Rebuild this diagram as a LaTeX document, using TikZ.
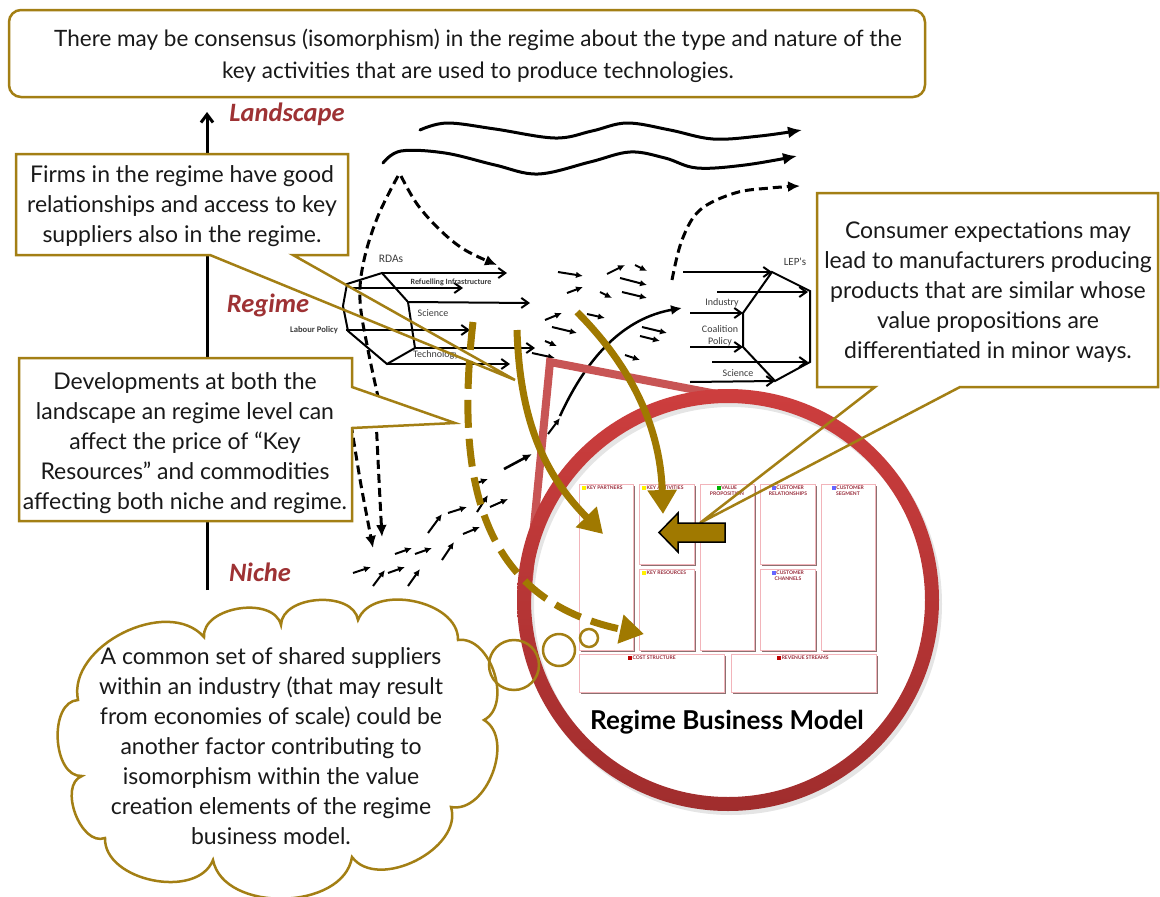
\documentclass[tikz,border=0pt]{standalone}
\usepackage{fontspec}
\setmainfont{Lato}
\newfontfamily\calfont{Carlito}
\usetikzlibrary{arrows.meta,shapes.symbols}

\definecolor{gold}{RGB}{163,127,20}
\definecolor{goldarr}{RGB}{160,121,0}
\definecolor{lblred}{RGB}{158,50,52}
\definecolor{ringtop}{RGB}{205,62,62}
\definecolor{ringbot}{RGB}{160,45,45}
\definecolor{trapred}{RGB}{200,85,85}
\definecolor{pinkb}{RGB}{242,180,186}
\definecolor{shadowb}{RGB}{140,112,112}
\definecolor{cvred}{RGB}{150,40,55}
\definecolor{lblgray}{RGB}{60,60,60}

\newcommand\sqb[1]{\textcolor{#1}{\rule{3.6pt}{3.6pt}}\hspace{0.8pt}}

\tikzset{
  callline/.style={draw=gold, line width=2.5pt, line join=miter},
  bodytext/.style={align=center, inner sep=0pt, text=black!90, font=\fontsize{23}{30}\selectfont},
  hexline/.style={black, line width=2pt, line join=miter},
  hexarrow/.style={black, line width=2pt, -{Straight Barb[length=7pt,width=10pt]}},
  smallarr/.style={black, line width=2pt, -{Latex[length=7pt,width=6.5pt]}},
  wavearr/.style={black, line width=3pt, line cap=round, -{Latex[length=14pt,width=12pt]}},
  dasharr/.style={black, line width=3pt, dash pattern=on 9pt off 5pt, -{Latex[length=12pt,width=11pt]}},
  goldarrow/.style={draw=goldarr, line width=7pt, -{Triangle[length=24pt,width=28pt]}},
  levellbl/.style={inner sep=0pt, text=lblred, font=\calfont\bfseries\itshape\fontsize{26.5}{26.5}\selectfont},
  hexlbl/.style={inner sep=0pt, text=lblgray, font=\calfont\fontsize{10}{10}\selectfont},
  cvbox/.style={draw=pinkb, fill=white, line width=1pt, inner sep=0pt, anchor=north west},
  cvshadow/.style={draw=shadowb, line width=1.5pt},
  cvlbl/.style={inner sep=0pt, align=center, text=cvred, font=\fontsize{5}{5.6}\selectfont\bfseries},
  puff/.style={bend left=#1},
}

\begin{document}
\begin{tikzpicture}[x=1pt,y=-1pt]
\useasboundingbox (0,0) rectangle (1160,897);
\fill[white] (0,0) rectangle (1160,897);

% ---------------- axis and levels
\coordinate (axbot) at (207,590);
\coordinate (axtop) at (207,112);
\draw[black, line width=3pt, -{Straight Barb[length=8pt,width=12pt]}] (axbot) -- (axtop);
\node[levellbl] (landscape) at (287,114) {Landscape};
\node[levellbl] (regime) at (268,305) {Regime};
\node[levellbl] (niche) at (260,572) {Niche};

% ---------------- landscape waves
\draw[wavearr] plot[smooth, tension=0.6] coordinates {(420,130) (447,123) (495,129) (555,138) (592,131) (627,123) (670,130) (713,139) (760,136) (802,130)};
\draw[wavearr] plot[smooth, tension=0.6] coordinates {(383,163) (401,151) (445,153) (495,165) (538,174) (590,162) (630,152) (665,158) (697,168) (745,165) (797,156)};
\draw[dasharr] plot[smooth, tension=0.6] coordinates {(672,280) (682,240) (700,210) (735,193) (770,188) (800,186)};

% dashed lines from landscape
\draw[dasharr] plot[smooth, tension=0.6] coordinates {(401,176) (417,204) (440,230) (465,250) (497,265)};
\draw[black, line width=3pt, dash pattern=on 9pt off 5pt] plot[smooth, tension=0.6] coordinates {(398,176) (378,216) (364,260) (360,300) (368,350) (381,410)};
\draw[dasharr] plot[smooth, tension=0.5] coordinates {(351,424) (361,485) (373,548)};
\draw[dasharr] plot[smooth, tension=0.5] coordinates {(376,418) (379,480) (382,537)};

% ---------------- left regime hexagon
\coordinate (h1) at (347,284);
\coordinate (h2) at (382,273);
\coordinate (h3) at (408,302);
\coordinate (h4) at (415,348);
\coordinate (h5) at (387,364);
\coordinate (h6) at (348,331);
\coordinate (h7) at (343,306);
\draw[hexline] (h1) -- (h2) -- (h3) -- (h4) -- (h5) -- (h6) -- (h7) -- cycle;
\coordinate (a1) at (507,273);
\coordinate (b0) at (350,288); \coordinate (b1) at (463,288);
\coordinate (a3) at (530,303);
\coordinate (c0) at (346,330); \coordinate (c1) at (470,330);
\coordinate (a4) at (535,348);
\coordinate (a5) at (510,364);
\draw[hexarrow] (h2) -- (a1);
\draw[hexarrow] (b0) -- (b1);
\draw[hexarrow] (h3) -- (a3);
\draw[hexarrow] (c0) -- (c1);
\draw[hexarrow] (h4) -- (a4);
\draw[hexarrow] (h5) -- (a5);
\node[hexlbl, font=\calfont\fontsize{11.5}{11.5}\selectfont] (rdas) at (391,259) {RDAs};
\node[hexlbl, font=\calfont\bfseries\fontsize{8}{8}\selectfont] (refuel) at (451,282) {Refuelling Infrastructure};
\node[hexlbl] (sci1) at (433,313) {Science};
\node[hexlbl, font=\calfont\bfseries\fontsize{8.6}{9}\selectfont] (labour) at (314,330) {Labour Policy};
\begin{scope}
\clip (400,340) rectangle (456,370);
\node[hexlbl, anchor=west] (techno) at (413,355) {Technology};
\end{scope}

% ---------------- right regime hexagon
\coordinate (r1) at (743,313);
\coordinate (r2) at (772,272);
\coordinate (r3) at (810,291);
\coordinate (r4) at (810,362);
\coordinate (r5) at (775,381);
\coordinate (r6) at (743,347);
\draw[hexline] (r1) -- (r2) -- (r3) -- (r4) -- (r5) -- (r6) -- cycle;
\coordinate (s1) at (683,272);
\coordinate (s2) at (717,292);
\coordinate (s3) at (690,313);
\coordinate (s4) at (690,347);
\coordinate (s5) at (712,362);
\coordinate (s6) at (690,382);
\draw[hexarrow] (s1) -- (r2);
\draw[hexarrow] (s2) -- (808,292);
\draw[hexarrow] (s3) -- (r1);
\draw[hexarrow] (s4) -- (r6);
\draw[hexarrow] (s5) -- (808,362);
\draw[hexarrow] (s6) -- (r5);
\node[hexlbl, font=\calfont\fontsize{11}{11}\selectfont] (leps) at (795,262) {LEP's};
\node[hexlbl] (industry) at (722,303) {Industry};
\node[hexlbl] (coal) at (720,329) {Coalition};
\node[hexlbl] (policy) at (720,342) {Policy};
\node[hexlbl] (sci2) at (738,373) {Science};

% ---------------- small arrows (niche and regime)
\foreach \ax/\ay/\bx/\by in {353/573/371/567, 373/586/385/570, 388/573/405/567, 408/586/420/569,
  395/554/412/548, 415/554/432/548, 442/560/454/542, 428/533/442/514, 448/513/467/507,
  463/534/480/527, 477/512/488/495, 477/483/488/479, 490/507/508/499, 548/434/560/418,
  558/272/583/276, 607/274/625/265, 635/265/647/271, 620/278/647/285, 567/293/583/287,
  600/292/612/298, 622/292/647/298, 545/320/562/313, 552/327/577/333, 587/314/605/318,
  545/341/557/346, 532/353/555/358, 642/327/667/333, 640/336/660/341, 625/355/640/360}
  {\draw[smallarr] (\ax,\ay) -- (\bx,\by);}
\draw[black, line width=2.6pt, -{Latex[length=9pt,width=8pt]}] (504,469) -- (532,454);
\draw[black, line width=2.5pt, -{Latex[length=11pt,width=10pt]}] (560,416) .. controls (588,355) and (625,318) .. (682,308);

% ---------------- regime business model ring
\draw[black, opacity=0.1, line width=14pt] (731,604) circle[radius=204];
\draw[trapred, line width=8pt, line join=miter] (527,598) -- (550,362) -- (722,395);
\shade[even odd rule, top color=ringtop, bottom color=ringbot] (728,600) circle[radius=211] (728,600) circle[radius=197];

% canvas boxes
\foreach \x/\y/\w/\h/\n in {579/484/54/166/kp, 639/484/55/80/ka, 639/569/55/81/kr, 700/484/54/166/vp,
  760/484/55/80/cr, 760/569/55/81/ch, 821/484/54/166/cs, 579/654/145/38/cost, 731/654/145/38/rev}
{
  \draw[cvshadow] (\x+\w+1.2,\y+2) -- (\x+\w+1.2,\y+\h+1.2) -- (\x+2,\y+\h+1.2);
  \node[cvbox, minimum width=\w pt, minimum height=\h pt] (\n) at (\x,\y) {};
}
\node[cvlbl, anchor=north west] (kpl) at (582,486) {\sqb{yellow}KEY PARTNERS};
\node[cvlbl, anchor=north west] (kal) at (642,486) {\sqb{yellow}KEY ACTIVITIES};
\node[cvlbl, anchor=north west] (krl) at (642,571) {\sqb{yellow}KEY RESOURCES};
\node[cvlbl, anchor=north] (vpl) at (727,486) {\sqb{green!70!black}VALUE\\PROPOSITION};
\node[cvlbl, anchor=north] (crl) at (788,486) {\sqb{blue!60}CUSTOMER\\RELATIONSHIPS};
\node[cvlbl, anchor=north] (chl) at (788,571) {\sqb{blue!60}CUSTOMER\\CHANNELS};
\node[cvlbl, anchor=north] (csl) at (848,486) {\sqb{blue!60}CUSTOMER\\SEGMENT};
\node[cvlbl, anchor=north] (costl) at (652,656) {\sqb{red!75!black}COST STRUCTURE};
\node[cvlbl, anchor=north] (revl) at (803,656) {\sqb{red!75!black}REVENUE STREAMS};
\node[inner sep=0pt, font=\bfseries\fontsize{26}{26}\selectfont] (rbm) at (727,722) {Regime Business Model};

% ---------------- callouts
\node[callline, fill=white, rounded corners=12pt, minimum width=916pt, minimum height=87pt] (topbox) at (467,53.5) {};
\node[bodytext, font=\fontsize{22.5}{32}\selectfont] (toptext) at (478,56) {There may be consensus (isomorphism) in the regime about the type and nature of the\\key activities that are used to produce technologies.};

\coordinate (firmtip) at (515,380);
\fill[white] (16,154) rectangle (348,255);
\draw[callline] (16,154) -- (348,154) -- (348,255) -- (293,255) -- (firmtip) -- (210,255) -- (16,255) -- cycle;
\node[bodytext] (firms) at (182,206) {Firms in the regime have good\\relationships and access to key\\suppliers also in the regime.};

\coordinate (devtip) at (455,423);
\draw[callline, fill=white] (19,358) -- (352,358) -- (352,387) -- (devtip) -- (352,428) -- (352,521) -- (19,521) -- cycle;
\node[bodytext] (devel) at (185,443) {Developments at both the\\landscape an regime level can\\affect the price of ``Key\\Resources'' and commodities\\affecting both niche and regime.};

\coordinate (constip) at (700,523);
\fill[white] (817,193) rectangle (1158,387);
\draw[callline] (817,193) -- (1158,193) -- (1158,387) -- (960,387) -- (constip) -- (875,387) -- (817,387) -- cycle;
\node[bodytext] (consumer) at (988,292) {Consumer expectations may\\lead to manufacturers producing\\products that are similar whose\\value propositions are\\differentiated in minor ways.};

% ---------------- gold arrows
\draw[goldarrow] (517,330) .. controls (520,430) and (550,480) .. (603,534);
\draw[goldarrow] (577,312) .. controls (625,360) and (660,420) .. (663,514);
\draw[goldarrow, dash pattern=on 28pt off 11pt] (473,322) .. controls (455,480) and (480,600) .. (644,634);
\draw[black, line width=1.5pt, fill=goldarr, line join=miter] (725,523) -- (678,523) -- (678,513) -- (659,532.5) -- (678,552) -- (678,542) -- (725,542) -- cycle;

% ---------------- thought cloud
\coordinate (v1) at (78,700);
\coordinate (v2) at (204,637);
\coordinate (v3) at (281,625);
\coordinate (v4) at (358,620);
\coordinate (v5) at (458,640);
\coordinate (v6) at (484,720);
\coordinate (v7) at (451,807);
\coordinate (v8) at (352,857);
\coordinate (v9) at (213,860);
\coordinate (v10) at (105,838);
\coordinate (v11) at (82,776);
\draw[draw=gold, line width=2.5pt, fill=white] (v1) to[puff=75] (v2) to[puff=85] (v3) to[puff=85] (v4)
  to[puff=80] (v5) to[puff=80] (v6) to[puff=80] (v7) to[puff=80] (v8) to[puff=80] (v9)
  to[puff=80] (v10) to[puff=90] (v11) to[puff=90] (v1) -- cycle;
\node[bodytext] (cloudtext) at (271,746) {A common set of shared suppliers\\within an industry (that may result\\from economies of scale) could be\\another factor contributing to\\isomorphism within the value\\creation elements of the regime\\business model.};
\draw[gold, line width=2.5pt] (514,665) circle[radius=25];
\draw[gold, line width=2.5pt] (559,650) circle[radius=16];
\draw[gold, line width=2.5pt] (589,638) circle[radius=9];
\end{tikzpicture}
\end{document}
